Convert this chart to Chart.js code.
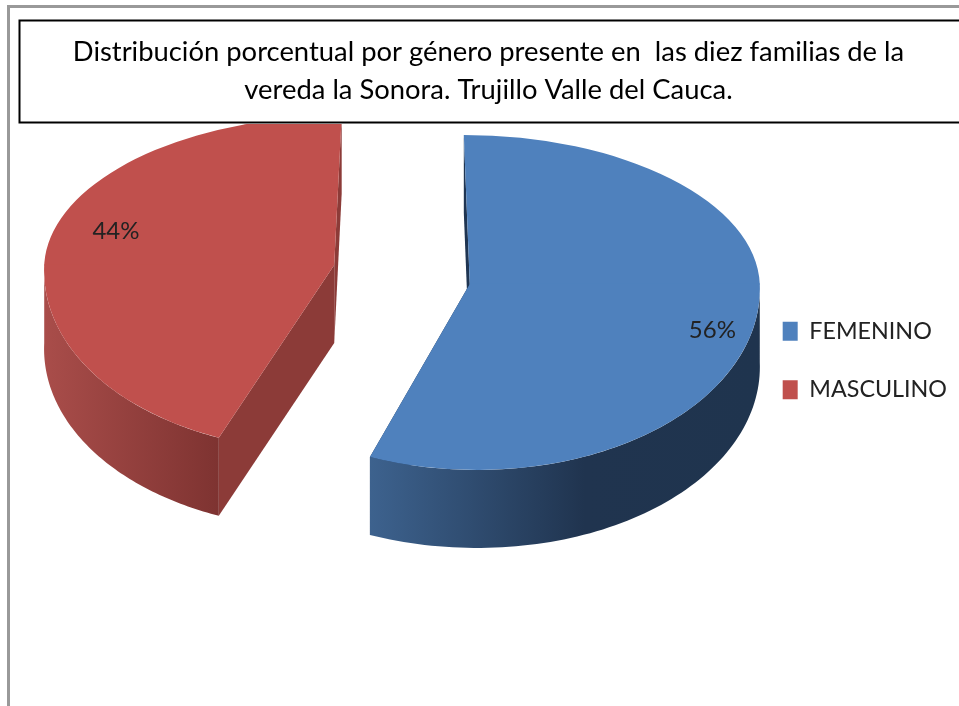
<!DOCTYPE html>
<html>
<head>
<meta charset="utf-8">
<script src="https://cdn.jsdelivr.net/npm/chart.js"></script>
<style>
  html, body { margin: 0; padding: 0; background: #fff; overflow: hidden; }
  canvas { display: block; }
</style>
</head>
<body>
<canvas id="myChart" width="959" height="706"></canvas>
<script>
const categories = ["FEMENINO", "MASCULINO"];
const values = [56, 44];
const sliceColors = ["#4f81bd", "#c0504d"];
const cutColors = ["#1f3552", "#8c3b38"];
const wallStops = [
  [[0, "#3d628e"], [0.55, "#20344f"], [1, "#1f344e"]],
  [[0, "#a94d4a"], [1, "#7e3331"]],
];
const titleLines = [
  "Distribución porcentual por género presente en  las diez familias de la",
  "vereda la Sonora. Trujillo Valle del Cauca.",
];

// look of the tilted pie
const pieCx = 402;
const pieCy = 274.5;
const radius = 290;
const explode = 69;
const squash = 0.74;
const topScale = 0.514;
const bottomScale = 0.641;
const depth = 78;
const shear = [0.04, -0.05];
const labelShift = [[5, 17], [17, -10]];

function sliceInfo(arc, i) {
  const mid = (arc.startAngle + arc.endAngle) / 2;
  return {
    X: pieCx + Math.cos(mid) * explode,
    A: pieCy + Math.sin(mid) * explode * squash,
    mid: mid,
    s: shear[i],
  };
}

// point on the flattened rim for an angle and a radius
function project(info, angle, r) {
  const sin = Math.sin(angle);
  const dy = r * sin * (sin < 0 ? topScale : bottomScale);
  return { x: info.X + r * Math.cos(angle) + info.s * dy, y: info.A + dy };
}

function drawWall(ctx, arc, i, info) {
  const from = Math.max(arc.startAngle, 0);
  const to = Math.min(arc.endAngle, Math.PI);
  if (to <= from) return;
  const pts = [];
  for (let n = 0; n <= 80; n++) {
    pts.push(project(info, from + (to - from) * n / 80, arc.outerRadius));
  }
  const xs = pts.map((p) => p.x);
  const g = ctx.createLinearGradient(Math.min(...xs), 0, Math.max(...xs), 0);
  wallStops[i].forEach((st) => g.addColorStop(st[0], st[1]));
  ctx.fillStyle = g;
  ctx.beginPath();
  pts.forEach((p, n) => (n ? ctx.lineTo(p.x, p.y) : ctx.moveTo(p.x, p.y)));
  pts.reverse().forEach((p) => ctx.lineTo(p.x, p.y + depth));
  ctx.closePath();
  ctx.fill();
}

function drawCut(ctx, arc, i, info, angle) {
  const p = project(info, angle, arc.outerRadius);
  ctx.fillStyle = cutColors[i];
  ctx.beginPath();
  ctx.moveTo(p.x, p.y);
  ctx.lineTo(info.X, info.A);
  ctx.lineTo(info.X, info.A + depth);
  ctx.lineTo(p.x, p.y + depth);
  ctx.closePath();
  ctx.fill();
}

const tiltedPie = {
  id: "tiltedPie",
  beforeDraw(chart) {
    const ctx = chart.ctx;
    ctx.save();
    ctx.strokeStyle = "#999999";
    ctx.lineWidth = 3;
    ctx.beginPath();
    ctx.moveTo(8.5, chart.height);
    ctx.lineTo(8.5, 6.5);
    ctx.lineTo(chart.width, 6.5);
    ctx.stroke();
    ctx.strokeStyle = "#000";
    ctx.lineWidth = 2;
    ctx.strokeRect(19.5, 20.5, chart.width + 10, 102);
    ctx.restore();
  },
  beforeDatasetsDraw(chart) {
    const ctx = chart.ctx;
    const top = chart.chartArea.top + 1;
    const arcs = chart.getDatasetMeta(0).data;
    ctx.save();
    ctx.beginPath();
    ctx.rect(0, top, chart.width, chart.height - top);
    ctx.clip();
    arcs.forEach((arc, i) => {
      const info = sliceInfo(arc, i);
      drawCut(ctx, arc, i, info, arc.startAngle);
      drawCut(ctx, arc, i, info, arc.endAngle);
      drawWall(ctx, arc, i, info);
      // the library's own arc, squeezed differently above and below its tip
      [[topScale, 0, info.A + 0.5], [bottomScale, info.A - 0.5, chart.height]].forEach((half) => {
        const k = half[0];
        ctx.save();
        ctx.beginPath();
        ctx.rect(0, half[1], chart.width, half[2] - half[1]);
        ctx.clip();
        ctx.transform(1, 0, info.s * k, k, info.X - arc.x - info.s * k * arc.y, info.A - k * arc.y);
        arc.draw(ctx);
        ctx.restore();
      });
    });
    ctx.restore();

    ctx.save();
    ctx.font = "24px Lato";
    ctx.fillStyle = "#222";
    ctx.textAlign = "center";
    ctx.textBaseline = "middle";
    const total = values.reduce((a, b) => a + b, 0);
    arcs.forEach((arc, i) => {
      const info = sliceInfo(arc, i);
      const p = project(info, info.mid, arc.outerRadius * 0.83);
      const text = Math.round(values[i] / total * 100) + "%";
      ctx.fillText(text, p.x + labelShift[i][0], p.y + labelShift[i][1]);
    });
    ctx.restore();
    return false;
  },
};

new Chart(document.getElementById("myChart").getContext("2d"), {
  type: "pie",
  data: {
    labels: categories,
    datasets: [{ data: values, backgroundColor: sliceColors, borderWidth: 0 }],
  },
  options: {
    responsive: false,
    animation: false,
    radius: radius,
    layout: { padding: { left: 20, top: 20, bottom: 5, right: 2 } },
    plugins: {
      tooltip: { enabled: false },
      title: {
        display: true,
        text: titleLines,
        color: "#000",
        font: { family: "Lato", size: 27.4, weight: "normal", lineHeight: 1.387 },
        padding: { top: 13, bottom: 14 },
      },
      legend: {
        position: "right",
        labels: {
          color: "#222",
          font: { family: "Lato", size: 23.3 },
          boxWidth: 15,
          boxHeight: 19,
          padding: 35,
        },
      },
    },
  },
  plugins: [tiltedPie],
});
</script>
</body>
</html>
